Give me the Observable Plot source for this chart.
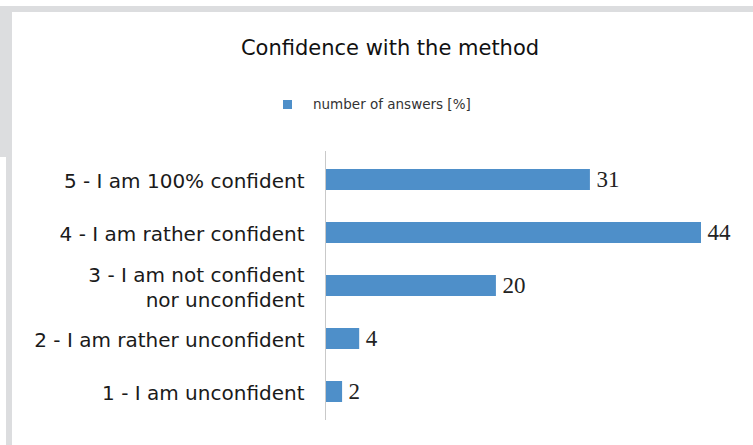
<!DOCTYPE html>
<html>
<head>
<meta charset="utf-8">
<script src="https://cdn.jsdelivr.net/npm/d3@7"></script>
<script src="https://cdn.jsdelivr.net/npm/@observablehq/plot@0.6"></script>
<style>
  html, body { margin: 0; padding: 0; background: #fff; }
  #wrap { position: relative; width: 753px; height: 445px; overflow: hidden; font-family: "DejaVu Sans", sans-serif; }
  .grey { position: absolute; background: #dcdddf; }
  #title { position: absolute; left: 0; width: 780px; top: 35px; text-align: center; font-size: 21px; line-height: 26px; color: #111; }
  #legend { position: absolute; left: 283px; top: 96px; font-size: 13.5px; line-height: 17px; color: #333; display: flex; align-items: center; }
  #legend .sw { width: 9px; height: 9px; background: #4e8fc9; margin-right: 21px; }
  #chart { position: absolute; left: 0; top: 0; }
</style>
</head>
<body>
<div id="wrap">
  <div class="grey" style="left:0;top:6px;width:753px;height:6px"></div>
  <div class="grey" style="left:0;top:6px;width:12px;height:151px"></div>
  <div class="grey" style="left:6px;top:157px;width:6px;height:288px"></div>
  <div id="title">Confidence with the method</div>
  <div id="legend"><div class="sw"></div><span>number of answers [%]</span></div>
  <div id="chart"></div>
</div>
<script>
const categories = [
  "5 - I am 100% confident",
  "4 - I am rather confident",
  "3 - I am not confident\nnor unconfident",
  "2 - I am rather unconfident",
  "1 - I am unconfident"
];
const values = [31, 44, 20, 4, 2];

const data = categories.map((c, i) => ({category: c, value: values[i]}));

const chart = Plot.plot({
  width: 753,
  height: 445,
  marginLeft: 325,
  marginRight: 52,
  marginTop: 151,
  marginBottom: 25,
  style: {background: "transparent", fontFamily: "DejaVu Sans, sans-serif"},
  x: {domain: [0, 44], axis: null},
  y: {domain: categories, paddingInner: 0.61, paddingOuter: 0.305, label: null},
  marks: [
    Plot.barX(data, {x: "value", y: "category", fill: "#4e8fc9"}),
    Plot.ruleX([0], {stroke: "#c9c9c9", strokeWidth: 1}),
    Plot.axisY({tickSize: 0, tickPadding: 21, fontSize: 20, fill: "#1a1a1a", label: null, lineHeight: 1.25}),
    Plot.text(data, {x: "value", y: "category", text: d => String(d.value), dx: 6, textAnchor: "start",
      fontFamily: "Liberation Serif, serif", fontSize: 23, fill: "#222"})
  ]
});
document.getElementById("chart").appendChild(chart);
</script>
</body>
</html>
